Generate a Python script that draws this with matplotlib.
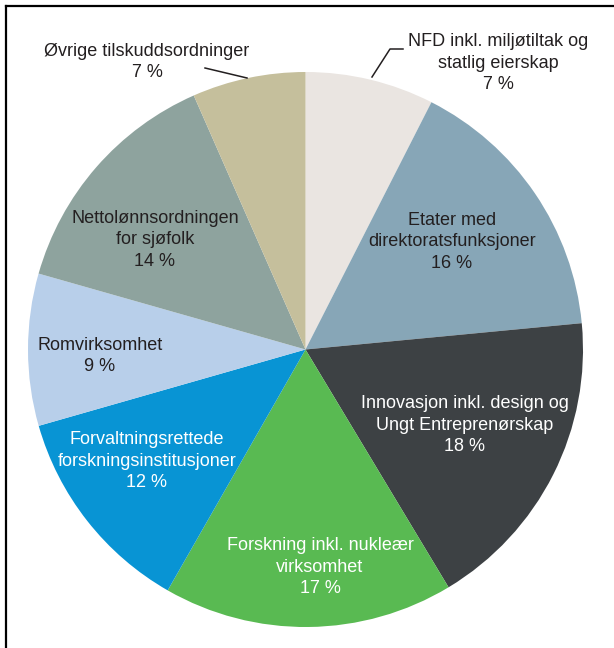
import matplotlib
matplotlib.use('Agg')
import matplotlib.pyplot as plt
from matplotlib.lines import Line2D

plt.rcParams['font.family'] = ['Liberation Sans', 'DejaVu Sans']

# data (share of budget, read from slice edges; labels show rounded values)
kategorier = [
    'NFD inkl. miljøtiltak og\nstatlig eierskap',
    'Etater med\ndirektoratsfunksjoner',
    'Innovasjon inkl. design og\nUngt Entreprenørskap',
    'Forskning inkl. nukleær\nvirksomhet',
    'Forvaltningsrettede\nforskningsinstitusjoner',
    'Romvirksomhet',
    'Nettolønnsordningen\nfor sjøfolk',
    'Øvrige tilskuddsordninger',
]
andeler = [7.5, 16.0, 17.9, 16.9, 12.3, 8.85, 14.0, 6.6]
prosent_tekst = ['7 %', '16 %', '18 %', '17 %', '12 %', '9 %', '14 %', '7 %']

farger = ['#EAE5E1', '#87A6B7', '#3D4144', '#59BA52',
          '#0894D4', '#B8CFEA', '#8EA39E', '#C5BF9C']
tekstfarger = ['#231F20', '#231F20', 'white', 'white',
               'white', '#231F20', '#231F20', '#231F20']

W, H = 614, 648
# label centres in pixel coords (x, y from top)
etikett_pos = [(498, 63), (452, 242), (465, 425), (320, 567),
               (147, 461), (100, 356), (155, 240), (147, 62)]

fig = plt.figure(figsize=(W / 100, H / 100), dpi=100)
ax = fig.add_axes([0, 0, 1, 1])

cx, cy, R = 305.5, H - 349.5, 277.5
ax.pie(andeler, colors=farger, startangle=90, counterclock=False,
       center=(cx, cy), radius=R, wedgeprops=dict(linewidth=0),
       frame=True)
ax.set_xlim(0, W)
ax.set_ylim(0, H)
ax.set_aspect('auto')
ax.axis('off')

for navn, pst, (px, py), tf in zip(kategorier, prosent_tekst, etikett_pos, tekstfarger):
    ax.text(px, H - py, navn + '\n' + pst, ha='center', va='center',
            color=tf, fontsize=13, linespacing=1.32)

# leader lines
ax.add_line(Line2D([372, 390, 403], [H - 77, H - 49, H - 49], color='#231F20', lw=1.1))
ax.add_line(Line2D([205, 247], [H - 68, H - 78], color='#231F20', lw=1.1))

# frame (top and left)
ax.add_line(Line2D([6, W], [H - 6, H - 6], color='black', lw=1.6))
ax.add_line(Line2D([6, 6], [H - 6, 0], color='black', lw=1.6))

fig.savefig('out.png', dpi=100)
plt.close(fig)
